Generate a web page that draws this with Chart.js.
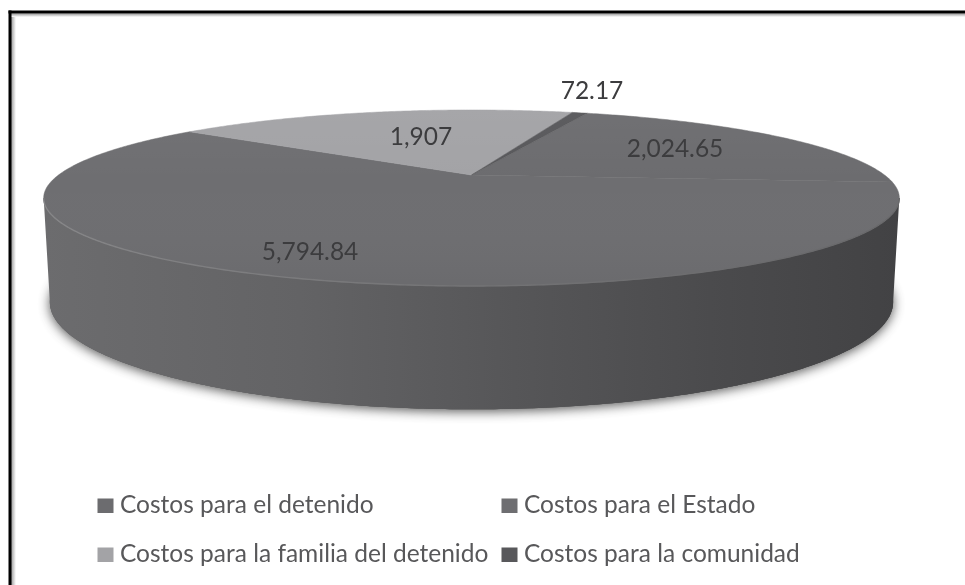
<!DOCTYPE html>
<html><head><meta charset="utf-8">
<style>html,body{margin:0;padding:0;background:#fff;width:965px;height:585px;overflow:hidden}
#wrap{position:absolute;left:0;top:0;width:965px;height:585px}
canvas{display:block;filter:blur(0.6px)}</style>
<script src="https://cdn.jsdelivr.net/npm/chart.js@4"></script>
</head><body><div id="wrap"><canvas id="c" width="965" height="585"></canvas></div>
<script>
const categories = ['Costos para el detenido','Costos para el Estado','Costos para la familia del detenido','Costos para la comunidad'];
const values = [2024.65, 5794.84, 1907, 72.17];
const sliceColors = ['#6c6c6f','#6e6e71','#a3a3a6','#58585b'];

// Perspective view of the disc
const TOP = {cx:471.5, cy:175, A:413, B:82, k:0.261};
const BASE = {cx:471.5, cy:274, A:407, B:100, k:0.261};
function proj(p, u, v){ const w = 1 - p.k*v; return [p.cx + p.A*u/w, p.cy + p.B*v/w]; }
function ring(ctx, p, a0, a1, first){
  const n = Math.max(2, Math.ceil(Math.abs(a1-a0)/0.01));
  for(let i=0;i<=n;i++){ const a=a0+(a1-a0)*i/n, q=proj(p,Math.cos(a),Math.sin(a));
    if(i===0&&first) ctx.moveTo(q[0],q[1]); else ctx.lineTo(q[0],q[1]); }
}
const LABEL_AT = [[675,149],[310,252],[421,137],[592,91]];
const LEGEND_AT = [[97,498],[501,498],[97,547],[501,547]];

const disc3d = {
  id:'disc3d',
  beforeDatasetDraw(chart, args){
    const ctx = chart.ctx, arcs = chart.getDatasetMeta(0).data;
    ctx.save();
    // picture frame (left and top only; the crop removes the rest)
    const fl = ctx.createLinearGradient(11,0,16,0);
    fl.addColorStop(0,'#999'); fl.addColorStop(1,'#fff');
    ctx.fillStyle=fl; ctx.fillRect(11,14,5,571);
    const ft = ctx.createLinearGradient(0,13.5,0,17);
    ft.addColorStop(0,'#999'); ft.addColorStop(1,'#fff');
    ctx.fillStyle=ft; ctx.fillRect(11,13.5,954,3.5);
    ctx.fillStyle='#000'; ctx.fillRect(8.5,10.5,3,574.5); ctx.fillRect(8.5,10.5,956.5,3);
    // soft shadow under the base
    ctx.save();
    ctx.shadowColor='rgba(50,50,50,0.85)'; ctx.shadowBlur=12; ctx.shadowOffsetX=0; ctx.shadowOffsetY=2;
    ctx.fillStyle='#555';
    ctx.beginPath(); ring(ctx,BASE,0,Math.PI*2,true); ctx.closePath(); ctx.fill();
    ctx.restore();
    // wall
    const g = ctx.createLinearGradient(43,0,900,0);
    g.addColorStop(0,'#6c6c6e'); g.addColorStop(0.3,'#636365'); g.addColorStop(0.55,'#565658');
    g.addColorStop(0.8,'#4a4a4c'); g.addColorStop(1,'#424244');
    ctx.fillStyle=g;
    ctx.beginPath();
    ring(ctx,BASE,0,Math.PI*2,true); ctx.closePath(); ctx.fill();
    ctx.beginPath();
    const s=Math.asin(TOP.k);
    ring(ctx,TOP,s,Math.PI-s,true);
    ring(ctx,BASE,Math.PI-s,s,false);
    ctx.closePath(); ctx.fill();
    // top face slices
    arcs.forEach((el,i)=>{
      const o = el.getProps(['startAngle','endAngle'],true);
      const c = proj(TOP,0,0);
      ctx.beginPath(); ctx.moveTo(c[0],c[1]);
      ring(ctx,TOP,o.startAngle,o.endAngle,false); ctx.closePath();
      ctx.fillStyle = sliceColors[i]; ctx.fill();
      ctx.strokeStyle = sliceColors[i]; ctx.lineWidth=0.5; ctx.stroke();
    });
    // faint shading and rim
    const sh = ctx.createLinearGradient(0,112,0,285);
    sh.addColorStop(0,'rgba(255,255,255,0.03)'); sh.addColorStop(0.4,'rgba(255,255,255,0)'); sh.addColorStop(1,'rgba(0,0,0,0.03)');
    ctx.fillStyle=sh; ctx.beginPath(); ring(ctx,TOP,0,Math.PI*2,true); ctx.closePath(); ctx.fill();
    const r = ctx.createLinearGradient(43,0,900,0);
    r.addColorStop(0,'#868688'); r.addColorStop(0.5,'#737375'); r.addColorStop(1,'#68686a');
    ctx.strokeStyle=r; ctx.lineWidth=1.4; ctx.beginPath(); ring(ctx,TOP,s,Math.PI-s,true); ctx.stroke();
    // value labels
    ctx.fillStyle='#3c3c3e'; ctx.font='24.5px Lato'; ctx.textAlign='center'; ctx.textBaseline='middle';
    values.forEach((val,i)=>{
      ctx.fillText(val.toLocaleString('en-US',{maximumFractionDigits:2}),LABEL_AT[i][0],LABEL_AT[i][1]);
    });
    // legend
    ctx.font='24.5px Lato'; ctx.textAlign='left'; ctx.textBaseline='alphabetic';
    categories.forEach((t,i)=>{
      const [x,y]=LEGEND_AT[i];
      ctx.fillStyle=sliceColors[i]; ctx.fillRect(x+0.5,y+0.5,16,14.5);
      ctx.fillStyle='#58585a'; ctx.fillText(t,x+23,y+15);
    });
    ctx.restore();
    return false;
  }
};
new Chart(document.getElementById('c'),{
  type:'pie',
  data:{labels:categories,datasets:[{data:values,backgroundColor:sliceColors,borderWidth:0}]},
  options:{responsive:false,animation:false,rotation:20.4,
    layout:{padding:0},
    plugins:{legend:{display:false},tooltip:{enabled:false},title:{display:false}}},
  plugins:[disc3d]
});
</script></body></html>
